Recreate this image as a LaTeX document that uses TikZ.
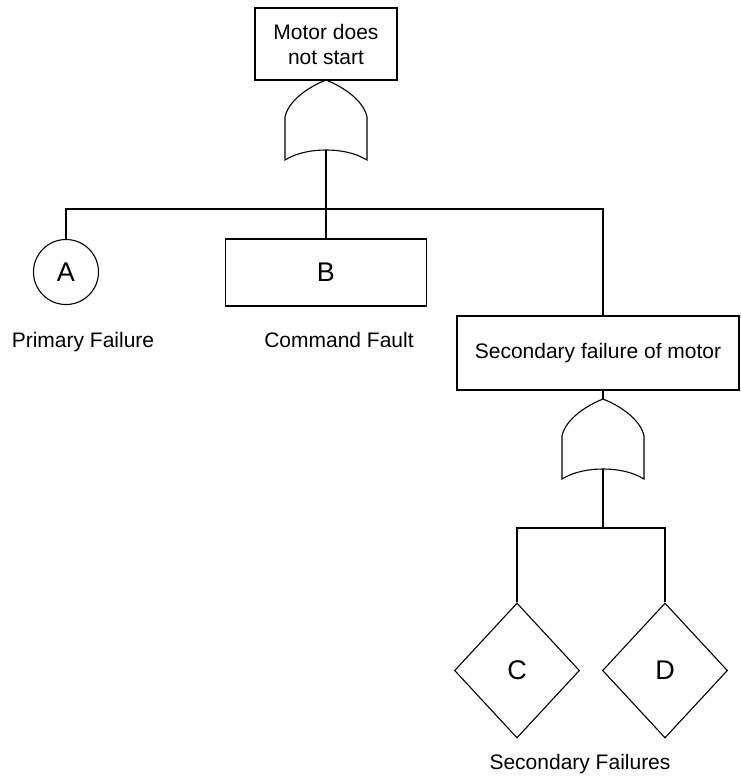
\documentclass[tikz,border=0pt]{standalone}
\usepackage{fontspec}
\setmainfont{Liberation Sans}
\usetikzlibrary{shapes.geometric}
\begin{document}
\begin{tikzpicture}[x=1pt,y=-1pt,line width=1.1pt,
  every node/.style={font=\fontsize{21}{25}\selectfont},
  event/.style={draw,rectangle,inner sep=0pt,align=center},
  bigletter/.style={font=\fontsize{27}{30}\selectfont},
  basic/.style={draw,circle,inner sep=0pt,minimum size=65pt,bigletter},
  undev/.style={draw,diamond,inner sep=0pt,minimum width=125pt,minimum height=135pt,bigletter},
  caption/.style={anchor=base},
  orgate/.pic={
    \draw (0,0) .. controls (-20,8) and (-38,22) .. (-41,37) -- (-41,80)
          .. controls (-28,72) and (-12,70) .. (0,70)
          .. controls (12,70) and (28,72) .. (41,80) -- (41,37)
          .. controls (38,22) and (20,8) .. cycle;
    \coordinate (-top) at (0,0);
    \coordinate (-bot) at (0,70);
  }]
\useasboundingbox (0,0) rectangle (740,776);

% top event and its OR gate
\node[event,minimum width=142pt,minimum height=72pt] (top) at (326,44) {Motor does\\not start};
\pic (g1) at (326,80) {orgate};

% first level of causes
\node[basic] (A) at (66,272) {A};
\node[event,bigletter,minimum width=201pt,minimum height=67pt] (B) at (326,272.5) {B};
\node[event,minimum width=282pt,minimum height=74pt] (S) at (598,353) {Secondary failure of motor};
\pic (g2) at (603,399) {orgate};

\node[caption] (pa) at (83,347) {Primary Failure};
\node[caption] (cf) at (339,347) {Command Fault};

% second level of causes
\node[undev] (C) at (517,670.5) {C};
\node[undev] (D) at (665,670.5) {D};
\node[caption] (sf) at (580,769) {Secondary Failures};

% connectors
\coordinate (bus) at (326,209);
\coordinate (bus2) at (603,528);
\draw (g1-bot) -- (B.north);
\draw (A.north) |- (bus) -| (g2-top |- S.north);
\draw (g2-top |- S.south) -- (g2-top);
\draw (g2-bot) -- (bus2);
\draw (C.north) |- (bus2) -| (D.north);
\end{tikzpicture}
\end{document}
